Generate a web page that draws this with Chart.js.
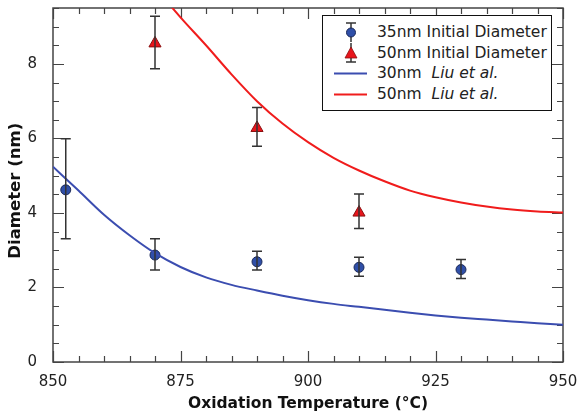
<!DOCTYPE html>
<html>
<head>
<meta charset="utf-8">
<script src="https://cdn.jsdelivr.net/npm/chart.js@4.4.1/dist/chart.umd.min.js"></script>
<style>
    html, body { margin: 0; padding: 0; background: #fff; }
    #wrap { position: relative; width: 579px; height: 415px; }
    #legend {
        position: absolute; left: 322px; top: 15px; width: 230px; height: 96px;
        border: 1.5px solid #111; background: #fff;
        font-family: "DejaVu Sans", sans-serif; font-size: 15.5px; color: #222;
        box-sizing: border-box; padding-top: 6px;
    }
    #legend .row { position: relative; height: 20.5px; line-height: 20.5px; }
    #legend .row span.txt { position: absolute; left: 54px; white-space: nowrap; }
    #legend svg { position: absolute; left: 8px; top: 0; }
</style>
</head>
<body>
<div id="wrap">
    <canvas id="diam_chart" width="579" height="415"></canvas>
    <div id="legend">
        <div class="row">
            <svg width="40" height="21"><line x1="20" y1="1" x2="20" y2="20" stroke="#333" stroke-width="1.5"/><line x1="15" y1="1" x2="25" y2="1" stroke="#333" stroke-width="1.5"/><circle cx="20" cy="10.5" r="4.5" fill="#2f4fa8" stroke="#1a2858" stroke-width="1"/></svg>
            <span class="txt">35nm Initial Diameter</span>
        </div>
        <div class="row">
            <svg width="40" height="21"><line x1="20" y1="0" x2="20" y2="19" stroke="#333" stroke-width="1.5"/><line x1="15" y1="19" x2="25" y2="19" stroke="#333" stroke-width="1.5"/><polygon points="20,4 26,15 14,15" fill="#e8151c" stroke="#8a1010" stroke-width="0.8"/></svg>
            <span class="txt">50nm Initial Diameter</span>
        </div>
        <div class="row">
            <svg width="40" height="21"><line x1="3" y1="10.5" x2="36" y2="10.5" stroke="#3b4db0" stroke-width="2"/></svg>
            <span class="txt">30nm &nbsp;<i>Liu et al.</i></span>
        </div>
        <div class="row">
            <svg width="40" height="21"><line x1="3" y1="10.5" x2="36" y2="10.5" stroke="#f01c1c" stroke-width="2"/></svg>
            <span class="txt">50nm &nbsp;<i>Liu et al.</i></span>
        </div>
    </div>
</div>
<script>
// measured points (oxidation temp in C, diameter in nm)
var temps_35 = [852.5, 870, 890, 910, 930];
var diam_35 = [4.62, 2.87, 2.69, 2.54, 2.48];
var low_35 = [3.31, 2.47, 2.47, 2.30, 2.24];
var high_35 = [5.99, 3.31, 2.97, 2.81, 2.75];

var temps_50 = [870, 890, 910];
var diam_50 = [8.55, 6.28, 4.01];
var low_50 = [7.87, 5.79, 3.58];
var high_50 = [9.28, 6.83, 4.51];

// Liu et al. curves
var liu_temps = [850, 855, 860, 865, 870, 875, 880, 885, 890, 895, 900, 905, 910, 915, 920, 925, 930, 935, 940, 945, 950];
var liu_30 = [5.24, 4.6, 3.95, 3.4, 2.92, 2.55, 2.27, 2.07, 1.92, 1.78, 1.66, 1.56, 1.48, 1.40, 1.32, 1.25, 1.19, 1.14, 1.09, 1.04, 1.0];
var liu_50 = [12.6, 11.6, 10.8, 10.1, 10.05, 9.25, 8.5, 7.72, 7.0, 6.4, 5.9, 5.48, 5.14, 4.85, 4.6, 4.42, 4.28, 4.17, 4.09, 4.04, 4.01];

var x_ticks = [850, 875, 900, 925, 950];
var y_ticks = [0, 2, 4, 6, 8];

function toXY(xs, ys){
    var out = [];
    for(var i = 0; i < xs.length; i++){
        out.push({x: xs[i], y: ys[i]});
    }
    return out;
}

var liu50_pts = toXY(liu_temps, liu_50).filter(function(p){ return p.x >= 870; });

// error bars + inward ticks + frame
var extrasPlugin = {
    id: 'extras',
    afterDatasetsDraw: function(chart){
        var ctx = chart.ctx;
        var xs = chart.scales.x, ys = chart.scales.y;
        var sets = [[temps_35, low_35, high_35], [temps_50, low_50, high_50]];
        ctx.save();
        ctx.strokeStyle = '#333';
        ctx.lineWidth = 1.5;
        for(var s = 0; s < sets.length; s++){
            for(var i = 0; i < sets[s][0].length; i++){
                var px = xs.getPixelForValue(sets[s][0][i]);
                var pl = ys.getPixelForValue(sets[s][1][i]);
                var ph = ys.getPixelForValue(sets[s][2][i]);
                ctx.beginPath();
                ctx.moveTo(px, pl); ctx.lineTo(px, ph);
                ctx.moveTo(px - 5, pl); ctx.lineTo(px + 5, pl);
                ctx.moveTo(px - 5, ph); ctx.lineTo(px + 5, ph);
                ctx.stroke();
            }
        }
        ctx.restore();
    },
    beforeDatasetsDraw: function(chart){
        var ctx = chart.ctx;
        var a = chart.chartArea;
        var xs = chart.scales.x, ys = chart.scales.y;
        ctx.save();
        ctx.strokeStyle = '#444';
        ctx.lineWidth = 1.2;
        ctx.beginPath();
        for(var t = 850; t <= 950; t += 5){
            var px = Math.round(xs.getPixelForValue(t)) + 0.5;
            var len = (t % 25 === 0) ? 11 : 6;
            ctx.moveTo(px, a.bottom); ctx.lineTo(px, a.bottom - len);
            ctx.moveTo(px, a.top); ctx.lineTo(px, a.top + len);
        }
        for(var v = 0; v <= 9.5; v += 0.5){
            var py = Math.round(ys.getPixelForValue(v)) + 0.5;
            var l2 = (v % 2 === 0) ? 11 : 6;
            ctx.moveTo(a.left, py); ctx.lineTo(a.left + l2, py);
            ctx.moveTo(a.right, py); ctx.lineTo(a.right - l2, py);
        }
        ctx.stroke();
        ctx.lineWidth = 1.5;
        ctx.strokeRect(a.left, a.top, a.right - a.left, a.bottom - a.top);
        ctx.restore();
    }
};

const ctx = document.getElementById('diam_chart');
new Chart(ctx, {
    type: 'scatter',
    data: {
        datasets: [{
            label: '30nm Liu et al.',
            type: 'line',
            data: toXY(liu_temps, liu_30),
            borderColor: '#3b4db0',
            borderWidth: 2,
            pointRadius: 0,
            cubicInterpolationMode: 'monotone',
            fill: false
        }, {
            label: '50nm Liu et al.',
            type: 'line',
            data: liu50_pts,
            borderColor: '#f01c1c',
            borderWidth: 2,
            pointRadius: 0,
            cubicInterpolationMode: 'monotone',
            fill: false
        }, {
            label: '35nm Initial Diameter',
            data: toXY(temps_35, diam_35),
            backgroundColor: '#2f4fa8',
            borderColor: '#1a2858',
            borderWidth: 1,
            pointRadius: 5,
            pointStyle: 'circle'
        }, {
            label: '50nm Initial Diameter',
            data: toXY(temps_50, diam_50),
            backgroundColor: '#e8151c',
            borderColor: '#8a1010',
            borderWidth: 1,
            pointRadius: 7,
            pointStyle: 'triangle'
        }]
    },
    options: {
        animation: false,
        responsive: false,
        layout: { padding: { left: 0, top: 5, right: 16, bottom: 0 } },
        scales: {
            x: {
                type: 'linear',
                min: 850,
                max: 950,
                afterBuildTicks: function(s){ s.ticks = x_ticks.map(function(v){ return {value: v}; }); },
                afterFit: function(s){ s.height = 53; s.paddingLeft = 0; s.paddingRight = 0; },
                grid: { display: false, drawTicks: false },
                border: { display: false },
                ticks: {
                    padding: 11,
                    color: '#222',
                    font: { family: 'DejaVu Sans', size: 15 }
                },
                title: {
                    display: true,
                    text: 'Oxidation Temperature (\u00B0C)',
                    color: '#111',
                    padding: { top: 0, bottom: 2 },
                    font: { family: 'DejaVu Sans', size: 15.5, weight: 'bold' }
                }
            },
            y: {
                min: 0,
                max: 9.5,
                afterBuildTicks: function(s){ s.ticks = y_ticks.map(function(v){ return {value: v}; }); },
                afterFit: function(s){ s.width = 53; s.paddingTop = 0; s.paddingBottom = 0; },
                grid: { display: false, drawTicks: false },
                border: { display: false },
                ticks: {
                    padding: 16,
                    color: '#222',
                    font: { family: 'DejaVu Sans', size: 15 }
                },
                title: {
                    display: true,
                    text: 'Diameter (nm)  ',
                    color: '#111',
                    padding: { top: 6, bottom: 0 },
                    font: { family: 'DejaVu Sans', size: 16.5, weight: 'bold' }
                }
            }
        },
        plugins: {
            legend: false,
            tooltip: { enabled: false }
        }
    },
    plugins: [extrasPlugin]
});
</script>
</body>
</html>
